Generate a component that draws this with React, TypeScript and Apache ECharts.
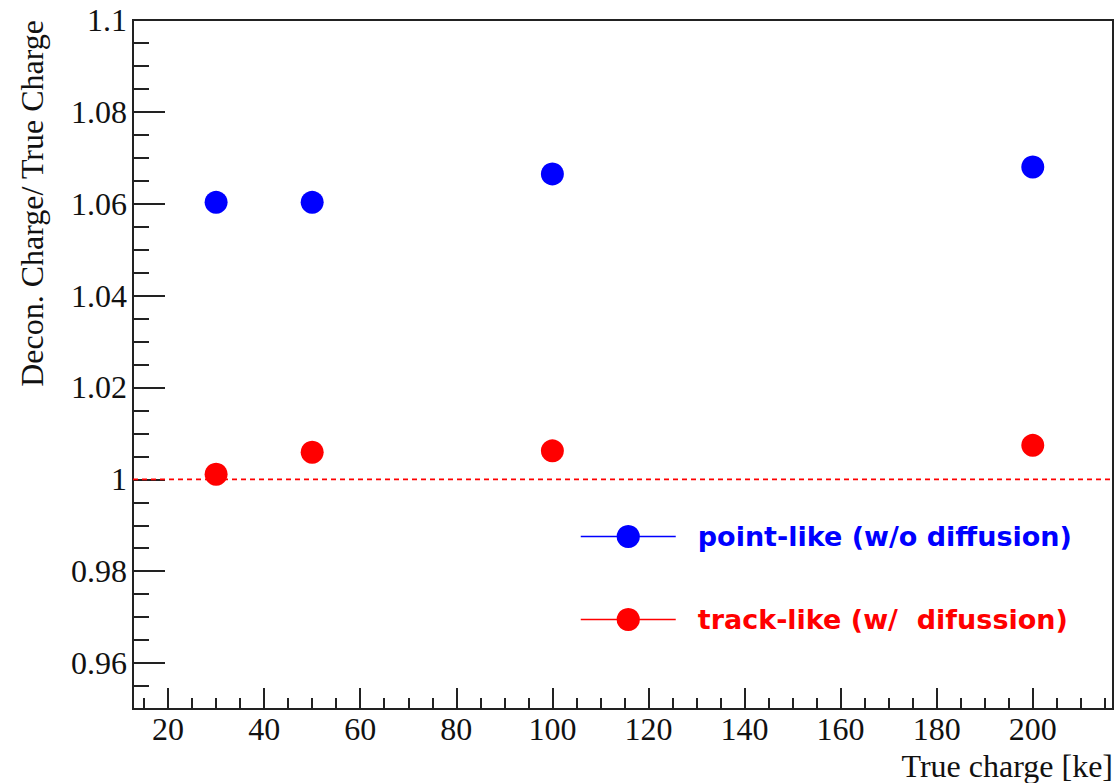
import React, { useEffect, useRef } from "react";
import * as echarts from "echarts";

// True charge values (ke) and the ratio of deconvolved to true charge
const trueCharge = [30, 50, 100, 200];
const pointLikeRatio = [1.0603, 1.0603, 1.0665, 1.068];
const trackLikeRatio = [1.0011, 1.0059, 1.0062, 1.0074];

const pointLikeName = "point-like (w/o diffusion)";
const trackLikeName = "track-like (w/  difussion)";

// Axis ranges and tick positions
const xMin = 12.7;
const xMax = 216.7;
const xMajorTicks = [20, 40, 60, 80, 100, 120, 140, 160, 180, 200];
const xMinorTicks = [15, 25, 30, 35, 45, 50, 55, 65, 70, 75, 85, 90, 95, 105, 110, 115, 125, 130, 135, 145, 150, 155, 165, 170, 175, 185, 190, 195, 205, 210, 215];

const yMin = 0.95;
const yMax = 1.1;
const yMajorTicks = [0.96, 0.98, 1, 1.02, 1.04, 1.06, 1.08, 1.1];
const yMinorTicks = [0.955, 0.965, 0.97, 0.975, 0.985, 0.99, 0.995, 1.005, 1.01, 1.015, 1.025, 1.03, 1.035, 1.045, 1.05, 1.055, 1.065, 1.07, 1.075, 1.085, 1.09, 1.095];

// Unit-ratio reference drawn across the full x range
const referenceLevel = 1;

const BLUE = "#0000ff";
const RED = "#ff0000";
const AXIS = "#222222";
const SERIF = "'Liberation Serif', 'Times New Roman', serif";
const SANS = "'DejaVu Sans', 'Liberation Sans', Arial, sans-serif";

export default function App() {
  const ref = useRef<HTMLDivElement>(null);

  useEffect(() => {
    if (!ref.current) return;
    const chart = echarts.init(ref.current, undefined, { renderer: "svg" });

    const fmt = (v: number) => String(parseFloat(Number(v).toFixed(3)));

    const option: any = {
      animation: false,
      backgroundColor: "#ffffff",
      grid: {
        left: 133,
        top: 20,
        right: 7,
        bottom: 74,
        show: true,
        borderColor: AXIS,
        borderWidth: 2,
        backgroundColor: "transparent",
      },
      xAxis: [
        {
          type: "value",
          min: xMin,
          max: xMax,
          axisLine: { show: true, onZero: false, lineStyle: { color: AXIS, width: 2 } },
          axisTick: {
            show: true,
            inside: true,
            length: 21,
            customValues: xMajorTicks,
            lineStyle: { color: AXIS, width: 2 },
          },
          axisLabel: {
            show: true,
            customValues: xMajorTicks,
            margin: 4,
            fontFamily: SERIF,
            fontSize: 32,
            color: "#111",
            formatter: (v: number) => fmt(v),
          },
          splitLine: { show: false },
        },
        {
          type: "value",
          min: xMin,
          max: xMax,
          position: "bottom",
          axisLine: { show: false },
          axisTick: {
            show: true,
            inside: true,
            length: 11,
            customValues: xMinorTicks,
            lineStyle: { color: AXIS, width: 2 },
          },
          axisLabel: { show: false },
          splitLine: { show: false },
        },
      ],
      yAxis: [
        {
          type: "value",
          min: yMin,
          max: yMax,
          axisLine: { show: true, onZero: false, lineStyle: { color: AXIS, width: 2 } },
          axisTick: {
            show: true,
            inside: true,
            length: 32,
            customValues: yMajorTicks,
            lineStyle: { color: AXIS, width: 2 },
          },
          axisLabel: {
            show: true,
            customValues: yMajorTicks,
            margin: 6,
            fontFamily: SERIF,
            fontSize: 32,
            color: "#111",
            formatter: (v: number) => fmt(v),
          },
          splitLine: { show: false },
        },
        {
          type: "value",
          min: yMin,
          max: yMax,
          position: "left",
          axisLine: { show: false },
          axisTick: {
            show: true,
            inside: true,
            length: 16,
            customValues: yMinorTicks,
            lineStyle: { color: AXIS, width: 2 },
          },
          axisLabel: { show: false },
          splitLine: { show: false },
        },
      ],
      legend: {
        orient: "vertical",
        left: 575,
        top: 518,
        itemWidth: 95,
        itemHeight: 29,
        itemGap: 56,
        selectedMode: false,
        lineStyle: { opacity: 1, width: 1.5 },
        textStyle: {
          fontFamily: SANS,
          fontWeight: "bold",
          fontSize: 27,
          padding: [0, 0, 0, 17],
        },
        data: [
          { name: pointLikeName, textStyle: { color: BLUE } },
          { name: trackLikeName, textStyle: { color: RED } },
        ],
      },
      series: [
        {
          name: "reference",
          type: "line",
          xAxisIndex: 0,
          yAxisIndex: 0,
          data: [
            [xMin, referenceLevel],
            [xMax, referenceLevel],
          ],
          symbol: "none",
          silent: true,
          color: RED,
          lineStyle: { color: RED, width: 1.6, type: [5, 4], opacity: 1 },
          emphasis: { disabled: true },
          z: 1,
        },
        {
          name: pointLikeName,
          type: "line",
          xAxisIndex: 0,
          yAxisIndex: 0,
          data: trueCharge.map((x, i) => [x, pointLikeRatio[i]]),
          symbol: "circle",
          symbolSize: 23,
          showSymbol: true,
          color: BLUE,
          itemStyle: { color: BLUE },
          lineStyle: { color: BLUE, width: 1.5, opacity: 0 },
          emphasis: { disabled: true },
          z: 5,
        },
        {
          name: trackLikeName,
          type: "line",
          xAxisIndex: 0,
          yAxisIndex: 0,
          data: trueCharge.map((x, i) => [x, trackLikeRatio[i]]),
          symbol: "circle",
          symbolSize: 23,
          showSymbol: true,
          color: RED,
          itemStyle: { color: RED },
          lineStyle: { color: RED, width: 1.5, opacity: 0 },
          emphasis: { disabled: true },
          z: 5,
        },
      ],
      graphic: [
        {
          type: "text",
          right: 7,
          top: 750,
          style: {
            text: "True charge [ke]",
            fontFamily: SERIF,
            fontSize: 32,
            fill: "#111",
          },
        },
        {
          type: "text",
          x: 32,
          y: 20,
          rotation: Math.PI / 2,
          style: {
            text: "Decon. Charge/ True Charge",
            fontFamily: SERIF,
            fontSize: 32,
            fill: "#111",
            align: "right",
            verticalAlign: "middle",
          },
        },
      ],
    };

    chart.setOption(option);
    return () => chart.dispose();
  }, []);

  return (
    <div
      ref={ref}
      style={{ position: "fixed", left: 0, top: 0, width: 1120, height: 783, background: "#fff" }}
    />
  );
}
